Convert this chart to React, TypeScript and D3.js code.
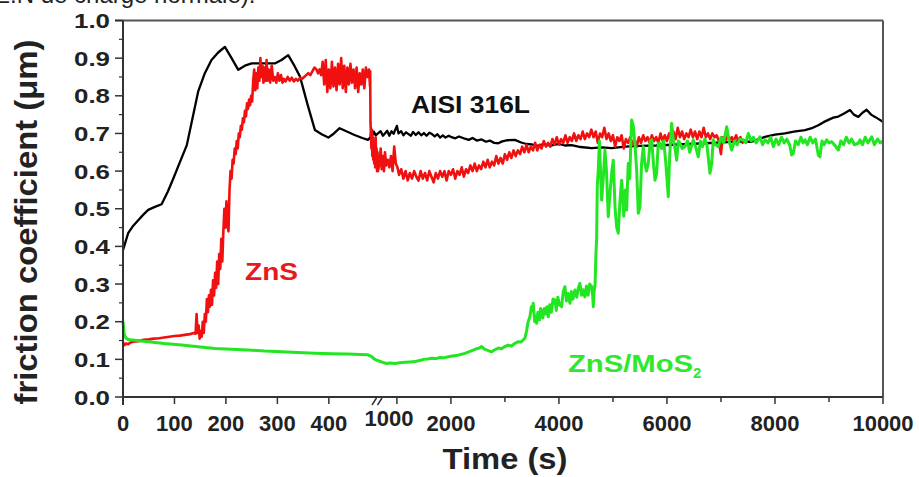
import React from "react";
import * as d3 from "d3";

// ---------- data ----------
const yTicks = [0, 0.1, 0.2, 0.3, 0.4, 0.5, 0.6, 0.7, 0.8, 0.9, 1.0];
const yMinorTicks = [0.05, 0.15, 0.25, 0.35, 0.45, 0.55, 0.65, 0.75, 0.85, 0.95];
const xMajorTicks = [0, 100, 200, 300, 400, 1000, 2000, 4000, 6000, 8000, 10000];
const xMinorTicks = [3000, 5000, 7000, 9000];

const seriesNames = ["AISI 316L", "ZnS", "ZnS/MoS"];

const aisiData: [number, number][] = [
  [0, 0.39], [10, 0.435], [20, 0.455], [30, 0.47], [40, 0.485], [49, 0.497], [62, 0.505], [75, 0.512],
  [87, 0.545], [98, 0.581], [111, 0.625], [124, 0.669], [135, 0.74], [146, 0.811], [159, 0.86], [172, 0.895],
  [185, 0.915], [198, 0.93], [211, 0.9], [224, 0.869], [237, 0.88], [250, 0.886], [272, 0.886], [295, 0.886],
  [308, 0.895], [321, 0.908], [333, 0.88], [344, 0.851], [358, 0.78], [373, 0.709], [386, 0.698], [399, 0.689],
  [410, 0.7], [421, 0.714], [435, 0.705], [450, 0.696], [465, 0.688], [476, 0.683], [490, 0.69], [510, 0.71],
  [530, 0.695], [560, 0.705], [600, 0.695], [650, 0.7], [700, 0.706], [740, 0.694], [778, 0.7], [820, 0.707],
  [860, 0.694], [900, 0.706], [940, 0.699], [970, 0.71], [1000, 0.72], [1030, 0.7], [1080, 0.706], [1120, 0.695],
  [1170, 0.703], [1209, 0.699], [1260, 0.694], [1300, 0.704], [1350, 0.696], [1400, 0.703], [1450, 0.695],
  [1500, 0.701], [1550, 0.694], [1600, 0.702], [1643, 0.699], [1700, 0.692], [1750, 0.698], [1800, 0.689],
  [1850, 0.695], [1900, 0.689], [1960, 0.694], [2013, 0.69], [2080, 0.687], [2150, 0.692], [2259, 0.686],
  [2330, 0.683], [2400, 0.688], [2480, 0.681], [2568, 0.684], [2650, 0.678], [2720, 0.681], [2800, 0.675],
  [2876, 0.674], [2950, 0.679], [3050, 0.682], [3185, 0.683], [3300, 0.676], [3400, 0.672], [3494, 0.671],
  [3600, 0.667], [3700, 0.671], [3864, 0.668], [4000, 0.672], [4111, 0.668], [4235, 0.669], [4400, 0.664],
  [4605, 0.661], [4800, 0.663], [4976, 0.661], [5222, 0.665], [5500, 0.667], [5800, 0.668], [6100, 0.67],
  [6400, 0.672], [6700, 0.674], [7000, 0.676], [7300, 0.679], [7568, 0.678], [7700, 0.685], [7815, 0.691],
  [8000, 0.697], [8185, 0.7], [8350, 0.705], [8556, 0.709], [8700, 0.715], [8802, 0.722], [8900, 0.73],
  [8988, 0.736], [9080, 0.742], [9173, 0.745], [9280, 0.753], [9389, 0.762], [9460, 0.75], [9543, 0.744],
  [9620, 0.755], [9697, 0.763], [9780, 0.75], [9852, 0.744], [9920, 0.738], [9975, 0.733], [10000, 0.73],
];

const znsData: [number, number][] = [
  [0, 0.145], [3, 0.138], [6, 0.142], [10, 0.14], [15, 0.145], [20, 0.147], [30, 0.148], [40, 0.152],
  [50, 0.153], [60, 0.155], [70, 0.156], [80, 0.158], [90, 0.16], [100, 0.162], [110, 0.163], [120, 0.165],
  [130, 0.167], [138, 0.17], [141, 0.168], [143, 0.22], [145, 0.17], [147, 0.19], [149, 0.155], [151, 0.175],
  [153, 0.16], [155, 0.2], [157, 0.17], [159, 0.22], [161, 0.2], [163, 0.26], [165, 0.225], [167, 0.27],
  [169, 0.24], [171, 0.285], [173, 0.245], [175, 0.31], [177, 0.27], [179, 0.33], [181, 0.29], [183, 0.36],
  [185, 0.3], [187, 0.38], [189, 0.34], [191, 0.42], [193, 0.36], [195, 0.44], [197, 0.5], [199, 0.45],
  [201, 0.52], [203, 0.46], [205, 0.44], [207, 0.55], [209, 0.6], [211, 0.58], [213, 0.63], [215, 0.62],
  [217, 0.66], [219, 0.645], [221, 0.68], [223, 0.66], [225, 0.7], [227, 0.69], [229, 0.72], [231, 0.71],
  [233, 0.74], [235, 0.73], [237, 0.76], [239, 0.745], [241, 0.78], [243, 0.765], [245, 0.79], [247, 0.775],
  [249, 0.8], [251, 0.785], [253, 0.84], [255, 0.87], [257, 0.815], [259, 0.86], [261, 0.82], [263, 0.875],
  [265, 0.84], [267, 0.9], [269, 0.85], [271, 0.88], [273, 0.835], [275, 0.875], [277, 0.84], [279, 0.895],
  [281, 0.84], [283, 0.87], [286, 0.835], [289, 0.88], [292, 0.84], [295, 0.85], [298, 0.835], [301, 0.86],
  [304, 0.84], [307, 0.855], [310, 0.835], [313, 0.845], [316, 0.838], [320, 0.85], [324, 0.84], [328, 0.848],
  [332, 0.838], [336, 0.845], [340, 0.84], [344, 0.848], [348, 0.845], [352, 0.85], [356, 0.855], [360, 0.86],
  [364, 0.855], [368, 0.865], [372, 0.875], [376, 0.87], [379, 0.86], [382, 0.87], [385, 0.855], [388, 0.89],
  [391, 0.83], [394, 0.895], [397, 0.81], [400, 0.87], [403, 0.82], [406, 0.89], [409, 0.825], [412, 0.875],
  [415, 0.815], [418, 0.885], [421, 0.83], [424, 0.9], [427, 0.82], [430, 0.88], [433, 0.81], [436, 0.875],
  [439, 0.83], [442, 0.885], [445, 0.835], [448, 0.87], [451, 0.82], [454, 0.875], [457, 0.81], [460, 0.86],
  [463, 0.83], [466, 0.87], [469, 0.82], [472, 0.875], [475, 0.85], [478, 0.87], [481, 0.825], [484, 0.865],
  [490, 0.73], [500, 0.7], [510, 0.66], [520, 0.71], [530, 0.64], [540, 0.69], [550, 0.63], [560, 0.68],
  [570, 0.62], [580, 0.665], [590, 0.61], [600, 0.69], [610, 0.63], [620, 0.66], [630, 0.6], [640, 0.65],
  [650, 0.6], [680, 0.62], [700, 0.66], [720, 0.605], [740, 0.64], [760, 0.6], [780, 0.65], [800, 0.615],
  [830, 0.63], [860, 0.61], [890, 0.64], [920, 0.6], [950, 0.665], [980, 0.62], [1010, 0.61], [1040, 0.59],
  [1080, 0.605], [1120, 0.58], [1160, 0.6], [1200, 0.575], [1240, 0.595], [1280, 0.58], [1320, 0.6],
  [1360, 0.585], [1400, 0.575], [1440, 0.6], [1480, 0.58], [1520, 0.595], [1560, 0.575], [1600, 0.6],
  [1640, 0.585], [1680, 0.57], [1720, 0.595], [1760, 0.58], [1800, 0.6], [1840, 0.585], [1880, 0.6],
  [1920, 0.575], [1960, 0.6], [2000, 0.59], [2040, 0.605], [2080, 0.58], [2120, 0.6], [2160, 0.59],
  [2200, 0.61], [2240, 0.585], [2280, 0.605], [2320, 0.595], [2360, 0.615], [2400, 0.6], [2440, 0.62],
  [2480, 0.6], [2520, 0.615], [2560, 0.605], [2600, 0.625], [2640, 0.61], [2680, 0.63], [2720, 0.61],
  [2760, 0.625], [2800, 0.615], [2840, 0.64], [2880, 0.62], [2920, 0.635], [2960, 0.62], [3000, 0.645],
  [3040, 0.63], [3080, 0.65], [3120, 0.635], [3160, 0.655], [3200, 0.64], [3240, 0.655], [3280, 0.645],
  [3320, 0.665], [3360, 0.65], [3400, 0.67], [3440, 0.65], [3480, 0.665], [3520, 0.655], [3560, 0.675],
  [3600, 0.655], [3640, 0.67], [3680, 0.66], [3720, 0.68], [3760, 0.665], [3800, 0.675], [3840, 0.665],
  [3880, 0.685], [3920, 0.67], [3960, 0.69], [4000, 0.67], [4040, 0.685], [4080, 0.675], [4120, 0.695],
  [4160, 0.675], [4200, 0.69], [4240, 0.68], [4280, 0.7], [4320, 0.68], [4360, 0.695], [4400, 0.685],
  [4440, 0.705], [4480, 0.685], [4520, 0.7], [4560, 0.69], [4600, 0.71], [4640, 0.69], [4680, 0.705],
  [4720, 0.675], [4760, 0.7], [4800, 0.69], [4840, 0.715], [4880, 0.685], [4920, 0.7], [4960, 0.68],
  [5000, 0.695], [5040, 0.665], [5080, 0.69], [5120, 0.68], [5160, 0.695], [5200, 0.66], [5240, 0.685],
  [5280, 0.675], [5320, 0.69], [5360, 0.67], [5400, 0.685], [5440, 0.665], [5480, 0.69], [5520, 0.675],
  [5560, 0.695], [5600, 0.68], [5640, 0.69], [5680, 0.675], [5720, 0.695], [5760, 0.68], [5800, 0.69],
  [5840, 0.675], [5880, 0.7], [5920, 0.68], [5960, 0.695], [6000, 0.68], [6040, 0.7], [6080, 0.685],
  [6120, 0.705], [6160, 0.685], [6200, 0.715], [6240, 0.69], [6280, 0.705], [6320, 0.685], [6360, 0.7],
  [6400, 0.69], [6440, 0.71], [6480, 0.69], [6520, 0.705], [6560, 0.685], [6600, 0.705], [6640, 0.69],
  [6680, 0.715], [6720, 0.69], [6760, 0.7], [6800, 0.685], [6840, 0.7], [6880, 0.69], [6920, 0.695],
  [6960, 0.68], [7000, 0.645], [7030, 0.69], [7080, 0.68], [7120, 0.695], [7160, 0.68], [7200, 0.69],
  [7240, 0.68], [7280, 0.695], [7320, 0.68], [7360, 0.69], [7400, 0.675], [7440, 0.685],
];

const znsMos2Data: [number, number][] = [
  [0, 0.2], [1, 0.185], [2, 0.17], [4, 0.16], [7, 0.155], [12, 0.152], [23, 0.151], [35, 0.149], [49, 0.147],
  [80, 0.142], [114, 0.138], [150, 0.133], [179, 0.129], [210, 0.127], [243, 0.125], [275, 0.122], [308, 0.12],
  [340, 0.118], [373, 0.116], [405, 0.115], [437, 0.114], [460, 0.113], [476, 0.112], [510, 0.108], [560, 0.102],
  [620, 0.098], [680, 0.095], [740, 0.092], [809, 0.089], [880, 0.09], [963, 0.089], [1050, 0.091],
  [1150, 0.092], [1250, 0.093], [1333, 0.094], [1420, 0.097], [1500, 0.1], [1570, 0.101], [1643, 0.103],
  [1720, 0.102], [1800, 0.105], [1870, 0.104], [1950, 0.107], [2030, 0.109], [2100, 0.11], [2180, 0.113],
  [2259, 0.116], [2330, 0.12], [2400, 0.124], [2470, 0.128], [2530, 0.13], [2568, 0.134], [2620, 0.127],
  [2680, 0.124], [2754, 0.12], [2820, 0.126], [2880, 0.13], [2940, 0.128], [3000, 0.134], [3060, 0.138],
  [3120, 0.135], [3180, 0.142], [3246, 0.147], [3300, 0.146], [3340, 0.152], [3370, 0.156], [3400, 0.175],
  [3430, 0.2], [3463, 0.213], [3490, 0.24], [3510, 0.23], [3524, 0.249], [3550, 0.2], [3570, 0.215],
  [3587, 0.196], [3610, 0.225], [3640, 0.205], [3660, 0.235], [3680, 0.231], [3700, 0.21], [3730, 0.235],
  [3760, 0.22], [3780, 0.24], [3802, 0.213], [3830, 0.245], [3860, 0.225], [3890, 0.26], [3926, 0.258],
  [3950, 0.23], [3980, 0.265], [4010, 0.245], [4050, 0.24], [4080, 0.28], [4111, 0.293], [4140, 0.255],
  [4170, 0.275], [4204, 0.249], [4230, 0.28], [4260, 0.26], [4296, 0.284], [4330, 0.265], [4360, 0.29],
  [4389, 0.302], [4420, 0.27], [4450, 0.285], [4481, 0.266], [4510, 0.295], [4540, 0.27], [4570, 0.3],
  [4605, 0.293], [4625, 0.27], [4636, 0.24], [4650, 0.28], [4670, 0.3], [4685, 0.38], [4698, 0.42],
  [4710, 0.56], [4728, 0.603], [4750, 0.68], [4765, 0.62], [4791, 0.523], [4820, 0.58], [4852, 0.656],
  [4880, 0.6], [4913, 0.479], [4950, 0.55], [4980, 0.6], [5006, 0.629], [5040, 0.5], [5070, 0.45],
  [5098, 0.435], [5130, 0.52], [5161, 0.576], [5200, 0.48], [5230, 0.55], [5254, 0.497], [5283, 0.62],
  [5310, 0.58], [5346, 0.736], [5376, 0.72], [5407, 0.674], [5440, 0.6], [5469, 0.488], [5500, 0.505],
  [5530, 0.62], [5561, 0.665], [5593, 0.62], [5620, 0.6], [5654, 0.62], [5690, 0.68], [5717, 0.683],
  [5750, 0.62], [5778, 0.576], [5809, 0.594], [5839, 0.674], [5870, 0.674], [5900, 0.66], [5940, 0.68],
  [5980, 0.62], [6024, 0.532], [6050, 0.64], [6087, 0.727], [6120, 0.68], [6150, 0.66], [6180, 0.629],
  [6210, 0.68], [6241, 0.674], [6280, 0.66], [6333, 0.665], [6380, 0.68], [6420, 0.65], [6487, 0.683],
  [6530, 0.665], [6580, 0.638], [6620, 0.68], [6660, 0.665], [6700, 0.685], [6740, 0.67], [6796, 0.594],
  [6828, 0.62], [6857, 0.683], [6900, 0.67], [6950, 0.665], [7000, 0.69], [7050, 0.675], [7106, 0.718],
  [7150, 0.68], [7198, 0.656], [7250, 0.68], [7300, 0.67], [7350, 0.685], [7413, 0.683], [7460, 0.675],
  [7506, 0.7], [7560, 0.68], [7600, 0.69], [7650, 0.675], [7722, 0.691], [7770, 0.67], [7815, 0.683],
  [7870, 0.675], [7920, 0.69], [7970, 0.665], [8020, 0.685], [8070, 0.67], [8120, 0.69], [8170, 0.675],
  [8220, 0.685], [8270, 0.67], [8309, 0.643], [8339, 0.647], [8380, 0.68], [8430, 0.67], [8480, 0.69],
  [8520, 0.675], [8556, 0.683], [8600, 0.67], [8650, 0.69], [8700, 0.675], [8750, 0.685], [8802, 0.643],
  [8833, 0.638], [8870, 0.68], [8910, 0.67], [8957, 0.683], [9000, 0.675], [9050, 0.678], [9100, 0.67],
  [9173, 0.656], [9220, 0.68], [9270, 0.67], [9320, 0.69], [9370, 0.675], [9420, 0.685], [9470, 0.67],
  [9543, 0.674], [9574, 0.683], [9620, 0.67], [9670, 0.69], [9720, 0.675], [9791, 0.691], [9840, 0.67],
  [9900, 0.685], [9950, 0.675], [9975, 0.678], [10000, 0.68],
];

// ---------- layout ----------
const W = 919;
const H = 477;
const FONT = "'Liberation Sans', Arial, Helvetica, sans-serif";

export default function App() {
  // broken axis: 0–480 s on the left, 650–10000 s on the right
  const x = d3.scaleLinear().domain([0, 480, 650, 10000]).range([123, 370, 378, 883]);
  const y = d3.scaleLinear().domain([0, 1]).range([397, 20.5]);
  const line = d3
    .line<[number, number]>()
    .x((d) => x(d[0]))
    .y((d) => y(d[1]));

  const x0 = x(0);
  const x1 = x(10000);
  const yTop = y(1);
  const yBot = y(0);
  const axisColor = "#333";

  return (
    <div style={{ position: "absolute", left: 0, top: 0 }}>
      <svg width={W} height={H} style={{ display: "block", background: "#fff" }}>
        {/* cropped caption at the very top */}
        <text x={-6} y={3} fontFamily={FONT} fontSize={24} fill="#222">
          E.N de charge normale).
        </text>

        {/* data */}
        <path d={line(aisiData) || ""} fill="none" stroke="#000" strokeWidth={2.3} strokeLinejoin="round" />
        <path d={line(znsData) || ""} fill="none" stroke="#f01010" strokeWidth={2.6} strokeLinejoin="round" />
        <path d={line(znsMos2Data) || ""} fill="none" stroke="#22e622" strokeWidth={3} strokeLinejoin="round" />

        {/* frame */}
        <line x1={115} x2={x1} y1={yTop} y2={yTop} stroke="#555" strokeWidth={2} />
        <line x1={x1} x2={x1} y1={yTop} y2={yBot} stroke="#555" strokeWidth={2} />
        <line x1={x0} x2={x0} y1={yTop} y2={yBot + 8} stroke={axisColor} strokeWidth={2} />
        <line x1={x0} x2={x1} y1={yBot} y2={yBot} stroke={axisColor} strokeWidth={2} />

        {/* y ticks */}
        {yTicks.map((t) => (
          <g key={"yt" + t}>
            <line x1={x0 - 8} x2={x0} y1={y(t)} y2={y(t)} stroke={axisColor} strokeWidth={1.5} />
            <text
              x={110}
              y={y(t)}
              dy="0.36em"
              textAnchor="end"
              fontFamily={FONT}
              fontWeight="bold"
              fontSize={21}
              fill="#222"
              textLength={36}
              lengthAdjust="spacingAndGlyphs"
            >
              {t.toFixed(1)}
            </text>
          </g>
        ))}
        {yMinorTicks.map((t) => (
          <line key={"ym" + t} x1={x0 - 4} x2={x0} y1={y(t)} y2={y(t)} stroke={axisColor} strokeWidth={1.2} />
        ))}

        {/* x ticks */}
        {xMajorTicks.map((t) => {
          const is1000 = t === 1000;
          return (
            <g key={"xt" + t}>
              <line x1={x(t)} x2={x(t)} y1={yBot} y2={yBot + 7} stroke={axisColor} strokeWidth={1.5} />
              <text
                x={x(t) + (is1000 ? -8 : 0)}
                y={is1000 ? 426 : 431}
                textAnchor="middle"
                fontFamily={FONT}
                fontWeight="bold"
                fontSize={22}
                fill="#222"
              >
                {t}
              </text>
            </g>
          );
        })}
        {xMinorTicks.map((t) => (
          <line key={"xm" + t} x1={x(t)} x2={x(t)} y1={yBot} y2={yBot + 5} stroke={axisColor} strokeWidth={1.5} />
        ))}

        {/* axis break marks */}
        <line x1={372} y1={405} x2={376.5} y2={398} stroke={axisColor} strokeWidth={1.5} />
        <line x1={377.5} y1={405} x2={382} y2={398} stroke={axisColor} strokeWidth={1.5} />

        {/* axis titles */}
        <text
          x={505}
          y={469}
          textAnchor="middle"
          fontFamily={FONT}
          fontWeight="bold"
          fontSize={30}
          fill="#222"
          textLength={125}
          lengthAdjust="spacingAndGlyphs"
        >
          Time (s)
        </text>
        <text
          transform="translate(37,222) rotate(-90)"
          textAnchor="middle"
          fontFamily={FONT}
          fontWeight="bold"
          fontSize={31}
          fill="#222"
          textLength={365}
          lengthAdjust="spacingAndGlyphs"
        >
          friction coefficient (μm)
        </text>

        {/* series labels */}
        <text
          x={411}
          y={113}
          fontFamily={FONT}
          fontWeight="bold"
          fontSize={23}
          fill="#111"
          textLength={119}
          lengthAdjust="spacingAndGlyphs"
        >
          {seriesNames[0]}
        </text>
        <text
          x={245}
          y={280}
          fontFamily={FONT}
          fontWeight="bold"
          fontSize={24}
          fill="#e8191b"
          textLength={53}
          lengthAdjust="spacingAndGlyphs"
        >
          {seriesNames[1]}
        </text>
        <text x={568} y={372} fontFamily={FONT} fontWeight="bold" fontSize={24} fill="#2ee82e">
          <tspan textLength={125} lengthAdjust="spacingAndGlyphs">
            {seriesNames[2]}
          </tspan>
          <tspan fontSize={15} dy={6}>
            2
          </tspan>
        </text>
      </svg>
    </div>
  );
}
